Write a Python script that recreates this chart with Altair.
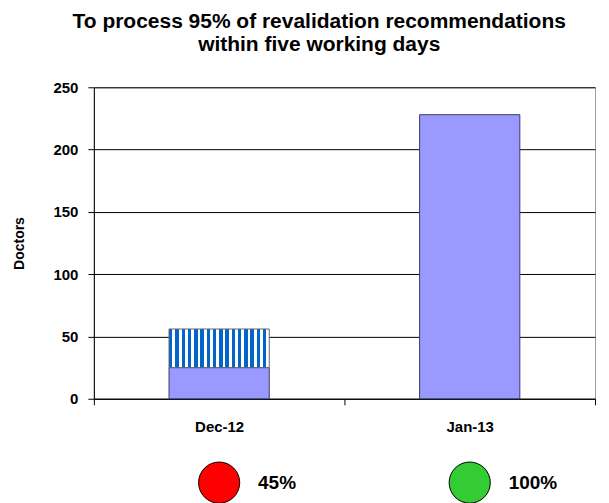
import altair as alt
import pandas as pd

months = ["Dec-12", "Jan-13"]
within_five_days = [25, 228]
outside_five_days = [31, 0]
pct_within = ["45%", "100%"]
rag_colors = ["#FF0000", "#33CC33"]
y_ticks = [0, 50, 100, 150, 200, 250]

df = pd.DataFrame({
    "month": months,
    "within": within_five_days,
    "total": [a + b for a, b in zip(within_five_days, outside_five_days)],
    "pct": pct_within,
    "rag": rag_colors,
})

FONT = "Liberation Sans"
x_scale = alt.Scale(domain=months, paddingInner=0, paddingOuter=0)
BAR_W = alt.RelativeBandSize(0.4)

# vertical stripe fill (blue / white)
n = 16
stops = []
for i in range(n):
    a, b, c = i / n, (i + 0.55) / n, (i + 1) / n
    stops += [
        alt.GradientStop(offset=a, color="#0066CC"),
        alt.GradientStop(offset=b, color="#0066CC"),
        alt.GradientStop(offset=b, color="#FFFFFF"),
        alt.GradientStop(offset=c, color="#FFFFFF"),
    ]
stripes = alt.LinearGradient(gradient="linear", stops=stops, x1=0, x2=1, y1=0, y2=0)

x_enc = alt.X(
    "month:N", scale=x_scale, title=None, sort=months,
    axis=alt.Axis(labelFont=FONT, labelFontWeight="bold", labelFontSize=15,
                  labelColor="black", labelAngle=0, labelPadding=15,
                  tickBand="extent", tickSize=6, tickColor="black",
                  domainColor="black", grid=False),
)
y_enc = alt.Y(
    "within:Q", scale=alt.Scale(domain=[0, 250], nice=False),
    axis=alt.Axis(values=y_ticks, title="Doctors", titleFont=FONT,
                  titleFontWeight="bold", titleFontSize=14, titleColor="black",
                  titlePadding=26, labelFont=FONT, labelFontWeight="bold",
                  labelFontSize=15, labelColor="black", labelPadding=10,
                  tickSize=6, tickColor="black", domainColor="black",
                  gridColor="black", gridOpacity=1),
)

base = alt.Chart(df)
solid = base.mark_bar(color="#9999FF", stroke="#3A3A6A", strokeWidth=1, width=BAR_W).encode(
    x=x_enc, y=y_enc
)
striped = base.transform_filter("datum.total > datum.within").mark_bar(
    fill=stripes, stroke="#666666", strokeWidth=1, width=BAR_W
).encode(x=alt.X("month:N", scale=x_scale, sort=months), y="within:Q", y2="total:Q")

top = alt.layer(solid, striped).properties(
    width=502, height=312, view=alt.ViewBackground(stroke="#A0A0A0")
)

x_enc2 = alt.X("month:N", scale=x_scale, sort=months, axis=None)
circles = alt.Chart(df).mark_point(
    shape="circle", filled=True, size=1700, opacity=1, stroke="black", strokeWidth=1
).encode(x=x_enc2, fill=alt.Fill("rag:N", scale=None))
labels = alt.Chart(df).mark_text(
    align="left", dx=39, font=FONT, fontSize=19, fontWeight="bold", color="black"
).encode(x=x_enc2, text="pct:N")
bottom = alt.layer(circles, labels).properties(
    width=502, height=50, view=alt.ViewBackground(strokeOpacity=0)
)

chart = alt.vconcat(top, bottom, spacing=22).properties(
    title=alt.TitleParams(
        ["To process 95% of revalidation recommendations", "within five working days"],
        font=FONT, fontSize=21, fontWeight="bold", color="black",
        anchor="middle", dx=15, offset=25, lineHeight=23,
    ),
    padding={"left": 4, "top": 2, "right": 5, "bottom": 0},
)

chart.save("out.html", embed_options={"renderer": "svg", "actions": False})
